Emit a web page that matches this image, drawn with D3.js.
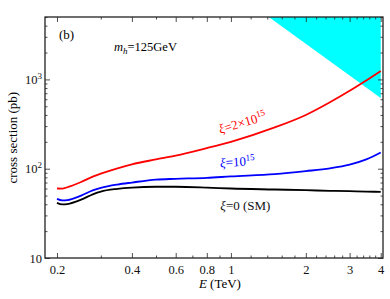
<!DOCTYPE html>
<html>
<head>
<meta charset="utf-8">
<script src="https://cdn.jsdelivr.net/npm/d3@7"></script>
<style>
  body { margin: 0; background: #fff; }
  text { font-family: "Liberation Serif", "DejaVu Serif", serif; }
</style>
</head>
<body>
<div id="chart"></div>
<script>
// energies (TeV) and cross sections (pb)
var energy = [0.2, 0.21, 0.22, 0.25, 0.28, 0.3, 0.35, 0.4, 0.5, 0.6, 0.8, 1, 1.5, 2, 2.5, 3, 3.5, 4];
var sigmaSM    = [41.5, 39.8, 40.2, 45, 52, 55.5, 59.5, 61.5, 62.8, 62.8, 61.5, 60, 58.5, 57.5, 56.5, 56, 55.5, 55];
var sigmaXi1   = [46, 44.3, 44.5, 50, 57.5, 61, 66.5, 70, 75.5, 77, 79, 82, 87, 94, 101, 111, 127, 152];
var sigmaXi2   = [60, 59.8, 62, 71, 82, 88, 101, 112, 127, 140, 170, 200, 290, 400, 555, 745, 975, 1240];

// excluded region (cyan), edge of the bound
var boundE = [1.42, 4];
var boundSigma = [5000, 620];

var xMajor = [0.2, 0.4, 0.6, 0.8, 1, 2, 3, 4];
var xMinor = [0.3, 0.5, 0.7, 0.9, 1.2, 1.4, 1.6, 1.8, 2.2, 2.4, 2.6, 2.8, 3.2, 3.4, 3.6, 3.8];
var yMajor = [10, 100, 1000];
var yMinor = [20, 30, 40, 50, 60, 70, 80, 90, 200, 300, 400, 500, 600, 700, 800, 900, 2000, 3000, 4000, 5000];

var margin = {top: 17, right: 7, bottom: 41, left: 45},
    width = 390 - margin.left - margin.right,
    height = 299 - margin.top - margin.bottom;

var svg = d3.select("#chart")
    .append("svg")
    .attr("width", 390)
    .attr("height", 299)
    .append("g")
    .attr("transform", "translate(" + margin.left + "," + margin.top + ")");

var x = d3.scaleLog().domain([0.179, 4.085]).range([0, width]);
var y = d3.scaleLog().domain([10, 5000]).range([height, 0]);

// cyan region
var poly = [[boundE[0], boundSigma[0]], [boundE[1], y.domain()[1]], [boundE[1], boundSigma[1]]];
svg.append("path")
    .attr("fill", "#00ffff")
    .attr("d", "M" + poly.map(function(p) { return x(p[0]) + "," + y(p[1]); }).join("L") + "Z");

// curves
var line = d3.line()
    .curve(d3.curveMonotoneX)
    .x(function(d) { return x(d[0]); })
    .y(function(d) { return y(d[1]); });

var series = [
    {vals: sigmaSM, color: "#000000"},
    {vals: sigmaXi1, color: "#0000ff"},
    {vals: sigmaXi2, color: "#ff0000"}
];
series.forEach(function(s) {
    svg.append("path")
        .datum(energy.map(function(e, i) { return [e, s.vals[i]]; }))
        .attr("fill", "none")
        .attr("stroke", s.color)
        .attr("stroke-width", 1.8)
        .attr("d", line);
});

// axes (ticks inward on all sides)
function styleAxis(g) {
    g.select(".domain").remove();
    g.selectAll("line").attr("stroke", "#222").attr("stroke-width", 0.8);
    g.selectAll("text").attr("font-size", 12.5).attr("fill", "#111")
        .style("font-family", "Liberation Serif, serif");
}

svg.append("g").attr("transform", "translate(0," + height + ")")
    .call(d3.axisBottom(x).tickValues(xMajor).tickSize(-5).tickPadding(7).tickFormat(d3.format("")))
    .call(styleAxis);
svg.append("g").attr("transform", "translate(0," + height + ")")
    .call(d3.axisBottom(x).tickValues(xMinor).tickSize(-2.5).tickFormat(""))
    .call(styleAxis);
svg.append("g")
    .call(d3.axisTop(x).tickValues(xMajor).tickSize(-5).tickFormat(""))
    .call(styleAxis);
svg.append("g")
    .call(d3.axisTop(x).tickValues(xMinor).tickSize(-2.5).tickFormat(""))
    .call(styleAxis);

var yAx = svg.append("g")
    .call(d3.axisLeft(y).tickValues(yMajor).tickSize(-5).tickPadding(3).tickFormat(""))
    .call(styleAxis);
yAx.selectAll(".tick text").each(function(d) {
    var t = d3.select(this);
    var p = Math.round(Math.log10(d));
    t.text("10");
    if (p > 1) {
        t.append("tspan").attr("dy", -5).attr("font-size", 9).text(p);
    }
});
svg.append("g")
    .call(d3.axisLeft(y).tickValues(yMinor).tickSize(-2.5).tickFormat(""))
    .call(styleAxis);
svg.append("g").attr("transform", "translate(" + width + ",0)")
    .call(d3.axisRight(y).tickValues(yMajor).tickSize(-5).tickFormat(""))
    .call(styleAxis);
svg.append("g").attr("transform", "translate(" + width + ",0)")
    .call(d3.axisRight(y).tickValues(yMinor).tickSize(-2.5).tickFormat(""))
    .call(styleAxis);

// frame
svg.append("rect")
    .attr("width", width).attr("height", height)
    .attr("fill", "none").attr("stroke", "#222").attr("stroke-width", 1.3);

// axis titles
svg.append("text")
    .attr("x", x(1) - 11).attr("y", height + 30)
    .attr("text-anchor", "middle").attr("font-size", 13)
    .html('<tspan font-style="italic">E</tspan> (TeV)');
svg.append("text")
    .attr("transform", "translate(" + (-28) + "," + (y(100) - 31) + ") rotate(-90)")
    .attr("text-anchor", "middle").attr("font-size", 13)
    .text("cross section  (pb)");

// annotations
svg.append("text").attr("x", 14).attr("y", 22).attr("font-size", 13).text("(b)");
svg.append("text").attr("x", 69).attr("y", 34).attr("font-size", 12.5)
    .html('<tspan font-style="italic">m</tspan><tspan font-style="italic" font-size="9" dy="3">h</tspan><tspan dy="-3">=125GeV</tspan>');

svg.append("text")
    .attr("transform", "translate(" + (x(0.85) + 7) + "," + (y(205) - 7) + ") rotate(-17)")
    .attr("font-size", 13).attr("fill", "#ff0000")
    .html('<tspan font-style="italic">ξ</tspan>=2×10<tspan dy="-5" font-size="9">15</tspan>');
svg.append("text")
    .attr("transform", "translate(" + (x(0.85) + 7) + "," + (y(84) - 8) + ") rotate(-4)")
    .attr("font-size", 13).attr("fill", "#0000ff")
    .html('<tspan font-style="italic">ξ</tspan>=10<tspan dy="-5" font-size="9">15</tspan>');
svg.append("text")
    .attr("x", x(0.85) + 7).attr("y", y(60) + 21)
    .attr("font-size", 13).attr("fill", "#111")
    .html('<tspan font-style="italic">ξ</tspan>=0 (SM)');
</script>
</body>
</html>
